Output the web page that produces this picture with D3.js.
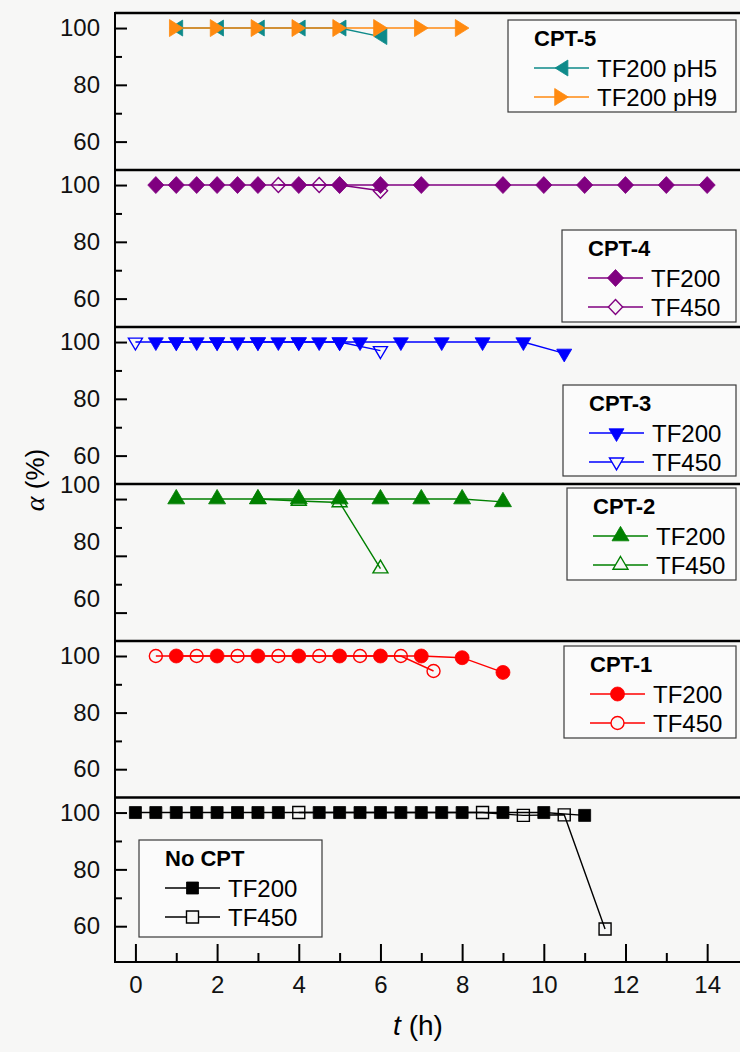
<!DOCTYPE html>
<html><head><meta charset="utf-8">
<script src="https://cdn.jsdelivr.net/npm/d3@7"></script>
<style>body{margin:0;background:#f7f7f6;} svg{display:block;}</style>
</head><body><svg id="chart" width="740" height="1052"></svg>
<script>
// ---------------- DATA ----------------
const xMajorTicks = [0, 2, 4, 6, 8, 10, 12, 14];
const xMinorTicks = [1, 3, 5, 7, 9, 11, 13];
const yMajorTicks = [60, 80, 100];
const yMinorTicks = [70, 90];

const panelNames = ["CPT-5", "CPT-4", "CPT-3", "CPT-2", "CPT-1", "No CPT"];

const cpt5Ph5T = [1, 2, 3, 4, 5, 6];
const cpt5Ph5V = [100, 100, 100, 100, 100, 97];
const cpt5Ph9T = [1, 2, 3, 4, 5, 6, 7, 8];
const cpt5Ph9V = [100, 100, 100, 100, 100, 100, 100, 100];

const cpt4Tf200T = [0.5, 1, 1.5, 2, 2.5, 3, 4, 5, 6, 7, 9, 10, 11, 12, 13, 14];
const cpt4Tf200V = [100, 100, 100, 100, 100, 100, 100, 100, 100, 100, 100, 100, 100, 100, 100, 100];
const cpt4Tf450T = [3.5, 4.5, 5, 6];
const cpt4Tf450V = [100, 100, 100, 98];

const cpt3Tf200T = [0.5, 1, 1.5, 2, 2.5, 3, 3.5, 4, 4.5, 5, 5.5, 6.5, 7.5, 8.5, 9.5, 10.5];
const cpt3Tf200V = [100, 100, 100, 100, 100, 100, 100, 100, 100, 100, 100, 100, 100, 100, 100, 96];
const cpt3Tf450T = [0, 1, 2, 3, 4, 5, 6];
const cpt3Tf450V = [100, 100, 100, 100, 100, 100, 97];

const cpt2Tf200T = [1, 2, 3, 4, 5, 6, 7, 8, 9];
const cpt2Tf200V = [100, 100, 100, 100, 100, 100, 100, 100, 99];
const cpt2Tf450T = [3, 4, 5, 6];
const cpt2Tf450V = [100, 99.3, 98.8, 75.5];

const cpt1Tf200T = [1, 2, 3, 4, 5, 6, 7, 8, 9];
const cpt1Tf200V = [100, 100, 100, 100, 100, 100, 100, 99.4, 94.2];
const cpt1Tf450T = [0.5, 1.5, 2.5, 3.5, 4.5, 5.5, 6.5, 7.3];
const cpt1Tf450V = [100, 100, 100, 100, 100, 100, 100, 94.7];

const noCptTf200T = [0, 0.5, 1, 1.5, 2, 2.5, 3, 3.5, 4.5, 5, 5.5, 6, 6.5, 7, 7.5, 8, 9, 10, 11];
const noCptTf200V = [100, 100, 100, 100, 100, 100, 100, 100, 100, 100, 100, 100, 100, 100, 100, 100, 100, 100, 99];
const noCptTf450T = [4, 8.5, 9.5, 10.5, 11.5];
const noCptTf450V = [100, 100, 99, 99.2, 59];

// ---------------- LAYOUT ----------------
const svg = d3.select("#chart");
const W = 740, H = 1052;
const BG = "#f7f7f6";
svg.append("rect").attr("width", W).attr("height", H).attr("fill", BG);

const axisX = 115, plotRight = 748, bottomY = 962;
const x = d3.scaleLinear().domain([-0.5, 15]).range([axisX, plotRight]);

const zip = (t, v) => t.map((d, i) => ({ t: d, v: v[i] }));

function shapePath(shape, s) {
  let w, h, d;
  switch (shape) {
    case "square": return `M${-s/2},${-s/2}h${s}v${s}h${-s}Z`;
    case "circle": { const r = s / 2; return `M${r},0A${r},${r} 0 1,1 ${-r},0A${r},${r} 0 1,1 ${r},0Z`; }
    case "diamond": w = s * 0.95; h = s; return `M0,${-h/2}L${w/2},0L0,${h/2}L${-w/2},0Z`;
    case "triUp": w = s; h = s * 0.85; return `M0,${-2*h/3}L${w/2},${h/3}L${-w/2},${h/3}Z`;
    case "triDown": w = s; h = s * 0.85; return `M0,${2*h/3}L${w/2},${-h/3}L${-w/2},${-h/3}Z`;
    case "triLeft": h = s; d = s * 0.8; return `M${-d/2},0L${d/2},${-h/2}L${d/2},${h/2}Z`;
    case "triRight": h = s; d = s * 0.8; return `M${d/2},0L${-d/2},${-h/2}L${-d/2},${h/2}Z`;
  }
}

const panels = [
  { top: 13, bot: 170, lo: 50, labelDy: 0,
    series: [
      { name: "TF200 pH5", data: zip(cpt5Ph5T, cpt5Ph5V), color: "#0e8a8a", shape: "triLeft", size: 16, filled: true },
      { name: "TF200 pH9", data: zip(cpt5Ph9T, cpt5Ph9V), color: "#ff8a10", shape: "triRight", size: 17, filled: true }],
    legend: { x: 508, y: 20, w: 228, h: 92 } },
  { top: 170, bot: 327, lo: 50, labelDy: 0,
    series: [
      { name: "TF200", data: zip(cpt4Tf200T, cpt4Tf200V), color: "#800080", shape: "diamond", size: 17, filled: true },
      { name: "TF450", data: zip(cpt4Tf450T, cpt4Tf450V), color: "#800080", shape: "diamond", size: 15, filled: false }],
    legend: { x: 562, y: 230, w: 174, h: 92 } },
  { top: 327, bot: 484, lo: 50, labelDy: 0,
    series: [
      { name: "TF200", data: zip(cpt3Tf200T, cpt3Tf200V), color: "#0000ff", shape: "triDown", size: 15, filled: true },
      { name: "TF450", data: zip(cpt3Tf450T, cpt3Tf450V), color: "#0000ff", shape: "triDown", size: 14, filled: false }],
    legend: { x: 563, y: 385, w: 173, h: 91 } },
  { top: 484, bot: 641, lo: 50, labelDy: -14,
    series: [
      { name: "TF200", data: zip(cpt2Tf200T, cpt2Tf200V), color: "#008000", shape: "triUp", size: 17, filled: true },
      { name: "TF450", data: zip(cpt2Tf450T, cpt2Tf450V), color: "#008000", shape: "triUp", size: 15, filled: false }],
    legend: { x: 567, y: 488, w: 169, h: 92 } },
  { top: 641, bot: 797.5, lo: 50, labelDy: 0,
    series: [
      { name: "TF200", data: zip(cpt1Tf200T, cpt1Tf200V), color: "#ff0000", shape: "circle", size: 14, filled: true },
      { name: "TF450", data: zip(cpt1Tf450T, cpt1Tf450V), color: "#ff0000", shape: "circle", size: 13, filled: false }],
    legend: { x: 564, y: 646, w: 172, h: 92 } },
  { top: 797.5, bot: bottomY, lo: 47.4, labelDy: 0,
    series: [
      { name: "TF200", data: zip(noCptTf200T, noCptTf200V), color: "#000000", shape: "square", size: 12, filled: true },
      { name: "TF450", data: zip(noCptTf450T, noCptTf450V), color: "#000000", shape: "square", size: 12, filled: false }],
    legend: { x: 139, y: 840, w: 183, h: 97 } }
];

const FONT = "'Liberation Sans', Arial, sans-serif";

panels.forEach((p, pi) => {
  const y = d3.scaleLinear().domain([p.lo, 105.3]).range([p.bot, p.top]);
  const g = svg.append("g");

  const ax = d3.axisLeft(y).tickValues(yMajorTicks).tickSizeInner(-12).tickSizeOuter(0).tickPadding(15);
  const ga = g.append("g").attr("transform", `translate(${axisX},0)`).call(ax);
  ga.select(".domain").remove();
  ga.selectAll(".tick line").attr("stroke", "#000").attr("stroke-width", 2);
  ga.selectAll(".tick text").attr("font-family", FONT).attr("font-size", 24).attr("fill", "#111")
    .attr("transform", `translate(0,${p.labelDy})`);
  const axm = d3.axisLeft(y).tickValues(yMinorTicks).tickSizeInner(-7).tickSizeOuter(0).tickFormat("");
  const gm = g.append("g").attr("transform", `translate(${axisX},0)`).call(axm);
  gm.select(".domain").remove();
  gm.selectAll(".tick line").attr("stroke", "#000").attr("stroke-width", 2);

  const line = d3.line().x(d => x(d.t)).y(d => y(d.v));
  p.series.forEach(s => {
    g.append("path").datum(s.data).attr("d", line).attr("fill", "none")
      .attr("stroke", s.color).attr("stroke-width", 1.4);
  });
  p.series.forEach(s => {
    g.selectAll(null).data(s.data).enter().append("path")
      .attr("transform", d => `translate(${x(d.t)},${y(d.v)})`)
      .attr("d", shapePath(s.shape, s.size))
      .attr("fill", s.filled ? s.color : "none")
      .attr("stroke", s.color).attr("stroke-width", s.filled ? 0.8 : 1.4);
  });

  const L = p.legend;
  const lg = svg.append("g").attr("transform", `translate(${L.x},${L.y})`);
  lg.append("rect").attr("width", L.w).attr("height", L.h).attr("fill", "#fbfbfb")
    .attr("stroke", "#3a3a3a").attr("stroke-width", 1.2);
  lg.append("text").attr("x", 26).attr("y", 26).text(panelNames[pi])
    .attr("font-family", FONT).attr("font-weight", "bold").attr("font-size", 22).attr("fill", "#000");
  p.series.forEach((s, i) => {
    const cy = 48 + i * 29;
    lg.append("line").attr("x1", 26).attr("x2", 81).attr("y1", cy).attr("y2", cy)
      .attr("stroke", s.color).attr("stroke-width", 1.4);
    lg.append("path").attr("transform", `translate(53.5,${cy})`).attr("d", shapePath(s.shape, s.size))
      .attr("fill", s.filled ? s.color : BG).attr("stroke", s.color).attr("stroke-width", s.filled ? 0.8 : 1.4);
    lg.append("text").attr("x", 89).attr("y", cy + 8.5).text(s.name)
      .attr("font-family", FONT).attr("font-size", 24).attr("fill", "#000");
  });

  svg.append("line").attr("x1", axisX).attr("x2", W).attr("y1", p.top).attr("y2", p.top)
    .attr("stroke", "#000").attr("stroke-width", 2.5);
});

svg.append("line").attr("x1", axisX).attr("x2", axisX).attr("y1", 12).attr("y2", bottomY + 1)
  .attr("stroke", "#000").attr("stroke-width", 2);

const xa = d3.axisBottom(x).tickValues(xMajorTicks).tickSizeInner(-18).tickSizeOuter(0).tickPadding(14);
const gx = svg.append("g").attr("transform", `translate(0,${bottomY})`).call(xa);
gx.select(".domain").remove();
gx.selectAll(".tick line").attr("stroke", "#000").attr("stroke-width", 2);
gx.selectAll(".tick text").attr("font-family", FONT).attr("font-size", 24).attr("fill", "#111");
const xm = d3.axisBottom(x).tickValues(xMinorTicks).tickSizeInner(-9).tickSizeOuter(0).tickFormat("");
const gxm = svg.append("g").attr("transform", `translate(0,${bottomY})`).call(xm);
gxm.select(".domain").remove();
gxm.selectAll(".tick line").attr("stroke", "#000").attr("stroke-width", 2);
svg.append("line").attr("x1", axisX).attr("x2", W).attr("y1", bottomY).attr("y2", bottomY)
  .attr("stroke", "#000").attr("stroke-width", 2);

const xt = svg.append("text").attr("x", 418).attr("y", 1035).attr("text-anchor", "middle")
  .attr("font-family", FONT).attr("font-size", 28).attr("fill", "#000");
xt.append("tspan").attr("font-style", "italic").text("t");
xt.append("tspan").text(" (h)");

const yt = svg.append("text").attr("transform", "translate(44,480) rotate(-90)").attr("text-anchor", "middle")
  .attr("font-family", FONT).attr("font-size", 26).attr("fill", "#000");
yt.append("tspan").attr("font-family", "'Liberation Serif', serif").attr("font-style", "italic").attr("font-size", 28).text("α");
yt.append("tspan").text(" (%)");
</script>
</body></html>
